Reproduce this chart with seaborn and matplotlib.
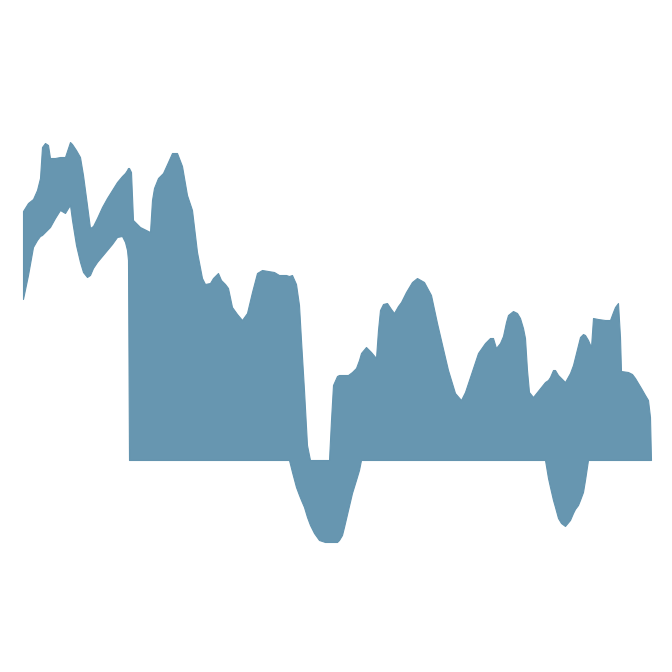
import numpy as np
import matplotlib
matplotlib.use("Agg")
import matplotlib.pyplot as plt
import seaborn as sns

# time steps
t = [3, 8, 13, 17, 20, 22, 25, 28, 30, 35,
     40, 45, 48, 50, 52, 56, 60, 63, 67, 70,
     73, 77, 82, 87, 92, 97, 102, 105, 107, 108,
     109, 111, 113, 120, 130, 132, 134, 138, 143, 148,
     152, 157, 162, 167, 172, 177, 182, 185, 190, 193,
     198, 201, 205, 208, 212, 217, 222, 227, 232, 237,
     242, 248, 254, 259, 266, 269, 272, 276, 279, 281,
     284, 287, 290, 294, 299, 305, 309, 311, 313, 317,
     319, 322, 324, 328, 332, 336, 339, 341, 346, 351,
     356, 358, 360, 363, 367, 371, 374, 378, 381, 386,
     392, 397, 404, 411, 417, 424, 428, 435, 441, 445,
     448, 453, 458, 465, 470, 473, 476, 480, 483, 486,
     488, 493, 497, 500, 503, 505, 507, 509, 513, 517,
     521, 525, 528, 530, 533, 535, 538, 541, 545, 550,
     553, 555, 558, 560, 563, 565, 568, 571, 573, 578,
     585, 590, 593, 595, 598, 600, 601, 608, 612, 615,
     621, 625, 628, 630, 631]

# upper edge of the band
upper = [24.9, 25.7, 26.1, 27.0, 28.2, 31.3, 31.7, 31.5, 30.2, 30.2,
         30.3, 30.3, 31.2, 31.8, 31.6, 31.0, 30.3, 28.5, 25.5, 23.2,
         23.4, 24.2, 25.3, 26.2, 27.0, 27.8, 28.4, 28.7, 29.0, 29.2,
         29.2, 28.8, 24.0, 23.3, 22.8, 26.0, 27.2, 28.2, 28.7, 29.8,
         30.7, 30.7, 29.4, 26.5, 25.0, 20.8, 18.2, 17.6, 17.7, 18.2,
         18.7, 18.0, 17.6, 17.2, 15.3, 14.6, 14.0, 14.7, 16.8, 18.7,
         19.0, 18.9, 18.8, 18.5, 18.5, 18.4, 18.5, 17.6, 15.5, 12.0,
         7.0, 1.5, 0.0, 0.0, 0.0, 0.0, 0.0, 4.0, 7.5, 8.4,
         8.5, 8.5, 8.5, 8.5, 8.8, 9.2, 10.0, 10.7, 11.3, 10.8,
         10.2, 13.0, 15.0, 15.6, 15.7, 15.1, 14.7, 15.4, 15.8, 16.8,
         17.8, 18.2, 17.8, 16.5, 13.7, 10.7, 9.0, 6.7, 6.0, 6.8,
         7.7, 9.2, 10.7, 11.7, 12.2, 12.2, 11.2, 11.7, 12.4, 13.8,
         14.5, 14.9, 14.7, 14.2, 13.2, 12.2, 9.0, 6.8, 6.3, 6.8,
         7.3, 7.8, 8.0, 8.3, 9.0, 9.0, 8.5, 8.2, 7.8, 8.7,
         9.5, 10.3, 11.5, 12.3, 12.6, 12.5, 12.0, 11.3, 14.2, 14.1,
         14.0, 14.0, 14.8, 15.3, 15.7, 12.3, 8.9, 8.8, 8.6, 8.2,
         7.2, 6.5, 6.0, 4.3, 0.0]

# lower edge of the band
lower = [16.1, 18.5, 21.3, 22.0, 22.4, 22.5, 22.8, 23.1, 23.3, 24.2,
         25.0, 24.7, 25.2, 25.5, 24.0, 21.5, 19.8, 18.8, 18.3, 18.5,
         19.2, 19.8, 20.4, 21.0, 21.6, 22.3, 22.4, 21.8, 21.0, 20.0,
         0.0, 0.0, 0.0, 0.0, 0.0, 0.0, 0.0, 0.0, 0.0, 0.0,
         0.0, 0.0, 0.0, 0.0, 0.0, 0.0, 0.0, 0.0, 0.0, 0.0,
         0.0, 0.0, 0.0, 0.0, 0.0, 0.0, 0.0, 0.0, 0.0, 0.0,
         0.0, 0.0, 0.0, 0.0, 0.0, 0.0, -1.2, -2.7, -3.5, -4.0,
         -4.7, -5.7, -6.5, -7.3, -8.0, -8.2, -8.2, -8.2, -8.2, -8.2,
         -8.0, -7.5, -6.7, -5.0, -3.3, -2.0, -1.0, 0.0, 0.0, 0.0,
         0.0, 0.0, 0.0, 0.0, 0.0, 0.0, 0.0, 0.0, 0.0, 0.0,
         0.0, 0.0, 0.0, 0.0, 0.0, 0.0, 0.0, 0.0, 0.0, 0.0,
         0.0, 0.0, 0.0, 0.0, 0.0, 0.0, 0.0, 0.0, 0.0, 0.0,
         0.0, 0.0, 0.0, 0.0, 0.0, 0.0, 0.0, 0.0, 0.0, 0.0,
         0.0, 0.0, -1.8, -2.7, -4.0, -4.7, -5.8, -6.3, -6.6, -6.0,
         -5.3, -4.9, -4.5, -4.0, -3.2, -2.0, 0.0, 0.0, 0.0, 0.0,
         0.0, 0.0, 0.0, 0.0, 0.0, 0.0, 0.0, 0.0, 0.0, 0.0,
         0.0, 0.0, 0.0, 0.0, 0.0]

band_color = "#6293ae"

sns.set_theme(style="white")

fig = plt.figure(figsize=(6.72, 6.72), dpi=100)
ax = fig.add_axes([0, 0, 1, 1])

ax.fill_between(t, lower, upper, color=band_color, linewidth=0.8,
                edgecolor=band_color, alpha=0.97)

ax.set_xlim(-20, 652)
ax.set_ylim(-21.2, 46)
ax.set_axis_off()
sns.despine(left=True, bottom=True)

fig.savefig("out.png", dpi=100, facecolor="white")
